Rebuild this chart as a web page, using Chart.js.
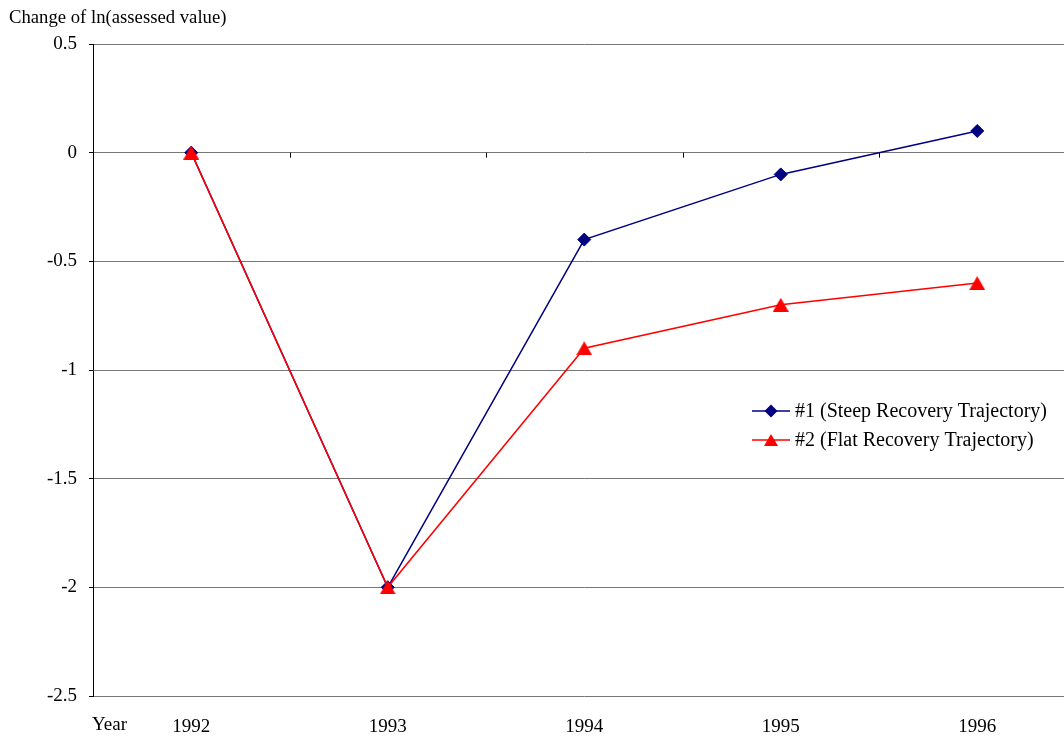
<!DOCTYPE html>
<html>
<head>
<meta charset="utf-8">
<script src="https://cdn.jsdelivr.net/npm/chart.js@4"></script>
<style>
  html, body { margin: 0; padding: 0; background: #fff; overflow: hidden; width: 1064px; height: 738px; }
  canvas { display: block; }
</style>
</head>
<body>
<canvas id="c" width="1084" height="738"></canvas>
<script>
// Data
const years = ['1992', '1993', '1994', '1995', '1996'];
const steepRecovery = [0, -2, -0.4, -0.1, 0.1];
const flatRecovery = [0, -2, -0.9, -0.7, -0.6];
const seriesNames = ['#1 (Steep Recovery Trajectory)', '#2 (Flat Recovery Trajectory)'];
const yMin = -2.5, yMax = 0.5, yStep = 0.5;
const yAxisTitle = 'Change of ln(assessed value)';
const xAxisName = 'Year';

const FONT = '"Liberation Serif", "Times New Roman", serif';
const NAVY = '#000080';
const RED = '#ff0000';

// Centered triangle marker
function triangleMarker(w, h, color) {
  const c = document.createElement('canvas');
  c.width = w; c.height = h;
  const g = c.getContext('2d');
  g.fillStyle = color;
  g.beginPath();
  g.moveTo(w / 2, 0);
  g.lineTo(w, h);
  g.lineTo(0, h);
  g.closePath();
  g.fill();
  return c;
}
const triPoint = triangleMarker(16, 14, RED);
const triLegend = triangleMarker(14, 12, RED);

function drawDiamond(ctx, cx, cy, r, color) {
  ctx.fillStyle = color;
  ctx.beginPath();
  ctx.moveTo(cx, cy - r);
  ctx.lineTo(cx + r, cy);
  ctx.lineTo(cx, cy + r);
  ctx.lineTo(cx - r, cy);
  ctx.closePath();
  ctx.fill();
}

// Axis title, "Year" label, zero-line tick marks and the legend
const annotations = {
  id: 'annotations',
  beforeDatasetsDraw(chart) {
    const { ctx, scales: { x, y } } = chart;
    const y0 = y.getPixelForValue(0);
    ctx.save();
    ctx.strokeStyle = '#000';
    ctx.lineWidth = 1;
    for (let i = 1; i < years.length; i++) {
      const xm = Math.round((x.getPixelForValue(i - 1) + x.getPixelForValue(i)) / 2) + 0.5;
      ctx.beginPath();
      ctx.moveTo(xm, y0);
      ctx.lineTo(xm, y0 + 5);
      ctx.stroke();
    }
    ctx.restore();
  },
  afterDraw(chart) {
    const { ctx } = chart;
    ctx.save();
    ctx.fillStyle = '#000';
    ctx.font = '18.7px ' + FONT;
    ctx.textAlign = 'left';
    ctx.textBaseline = 'middle';
    ctx.fillText(yAxisTitle, 9, 18);
    ctx.font = '19px ' + FONT;
    ctx.fillText(xAxisName, 92, 725);

    // legend
    ctx.font = '20px ' + FONT;
    const lx = 752, rows = [411, 440];
    const colors = [NAVY, RED];
    for (let i = 0; i < seriesNames.length; i++) {
      const ly = rows[i];
      ctx.strokeStyle = colors[i];
      ctx.lineWidth = 1.5;
      ctx.beginPath();
      ctx.moveTo(lx, ly);
      ctx.lineTo(lx + 38, ly);
      ctx.stroke();
      if (i === 0) drawDiamond(ctx, lx + 19, ly, 6.5, NAVY);
      else ctx.drawImage(triLegend, lx + 19 - 7, ly - 6);
      ctx.fillStyle = '#000';
      ctx.fillText(seriesNames[i], lx + 43, ly + 1);
    }
    ctx.restore();
  }
};

new Chart(document.getElementById('c'), {
  type: 'line',
  data: {
    labels: years,
    datasets: [
      {
        label: seriesNames[0],
        data: steepRecovery,
        borderColor: NAVY,
        backgroundColor: NAVY,
        borderWidth: 1.5,
        pointStyle: 'rectRot',
        pointRadius: 6.5,
        pointBorderWidth: 1,
        pointBackgroundColor: NAVY,
        pointBorderColor: NAVY,
        tension: 0,
        order: 1
      },
      {
        label: seriesNames[1],
        data: flatRecovery,
        borderColor: RED,
        backgroundColor: RED,
        borderWidth: 1.5,
        pointStyle: triPoint,
        pointRadius: 7,
        tension: 0,
        order: 0
      }
    ]
  },
  options: {
    responsive: false,
    animation: false,
    events: [],
    layout: { padding: { top: 44, left: 0, right: 0, bottom: 0 } },
    plugins: {
      legend: { display: false },
      tooltip: { enabled: false },
      title: { display: false }
    },
    scales: {
      x: {
        type: 'category',
        offset: true,
        grid: { display: false, drawTicks: false },
        border: { display: false },
        ticks: {
          color: '#000',
          font: { family: FONT, size: 19 },
          padding: 20,
          maxRotation: 0
        },
        afterFit(scale) { scale.height = 42; }
      },
      y: {
        min: yMin,
        max: yMax,
        grid: { color: '#777', lineWidth: 1, tickLength: 4, tickColor: '#000' },
        border: { display: true, color: '#000', width: 1 },
        ticks: {
          stepSize: yStep,
          color: '#000',
          font: { family: FONT, size: 19 },
          padding: 12,
          callback: (v) => String(Math.round(v * 10) / 10)
        },
        afterFit(scale) { scale.width = 93; }
      }
    }
  },
  plugins: [annotations]
});
</script>
</body>
</html>
